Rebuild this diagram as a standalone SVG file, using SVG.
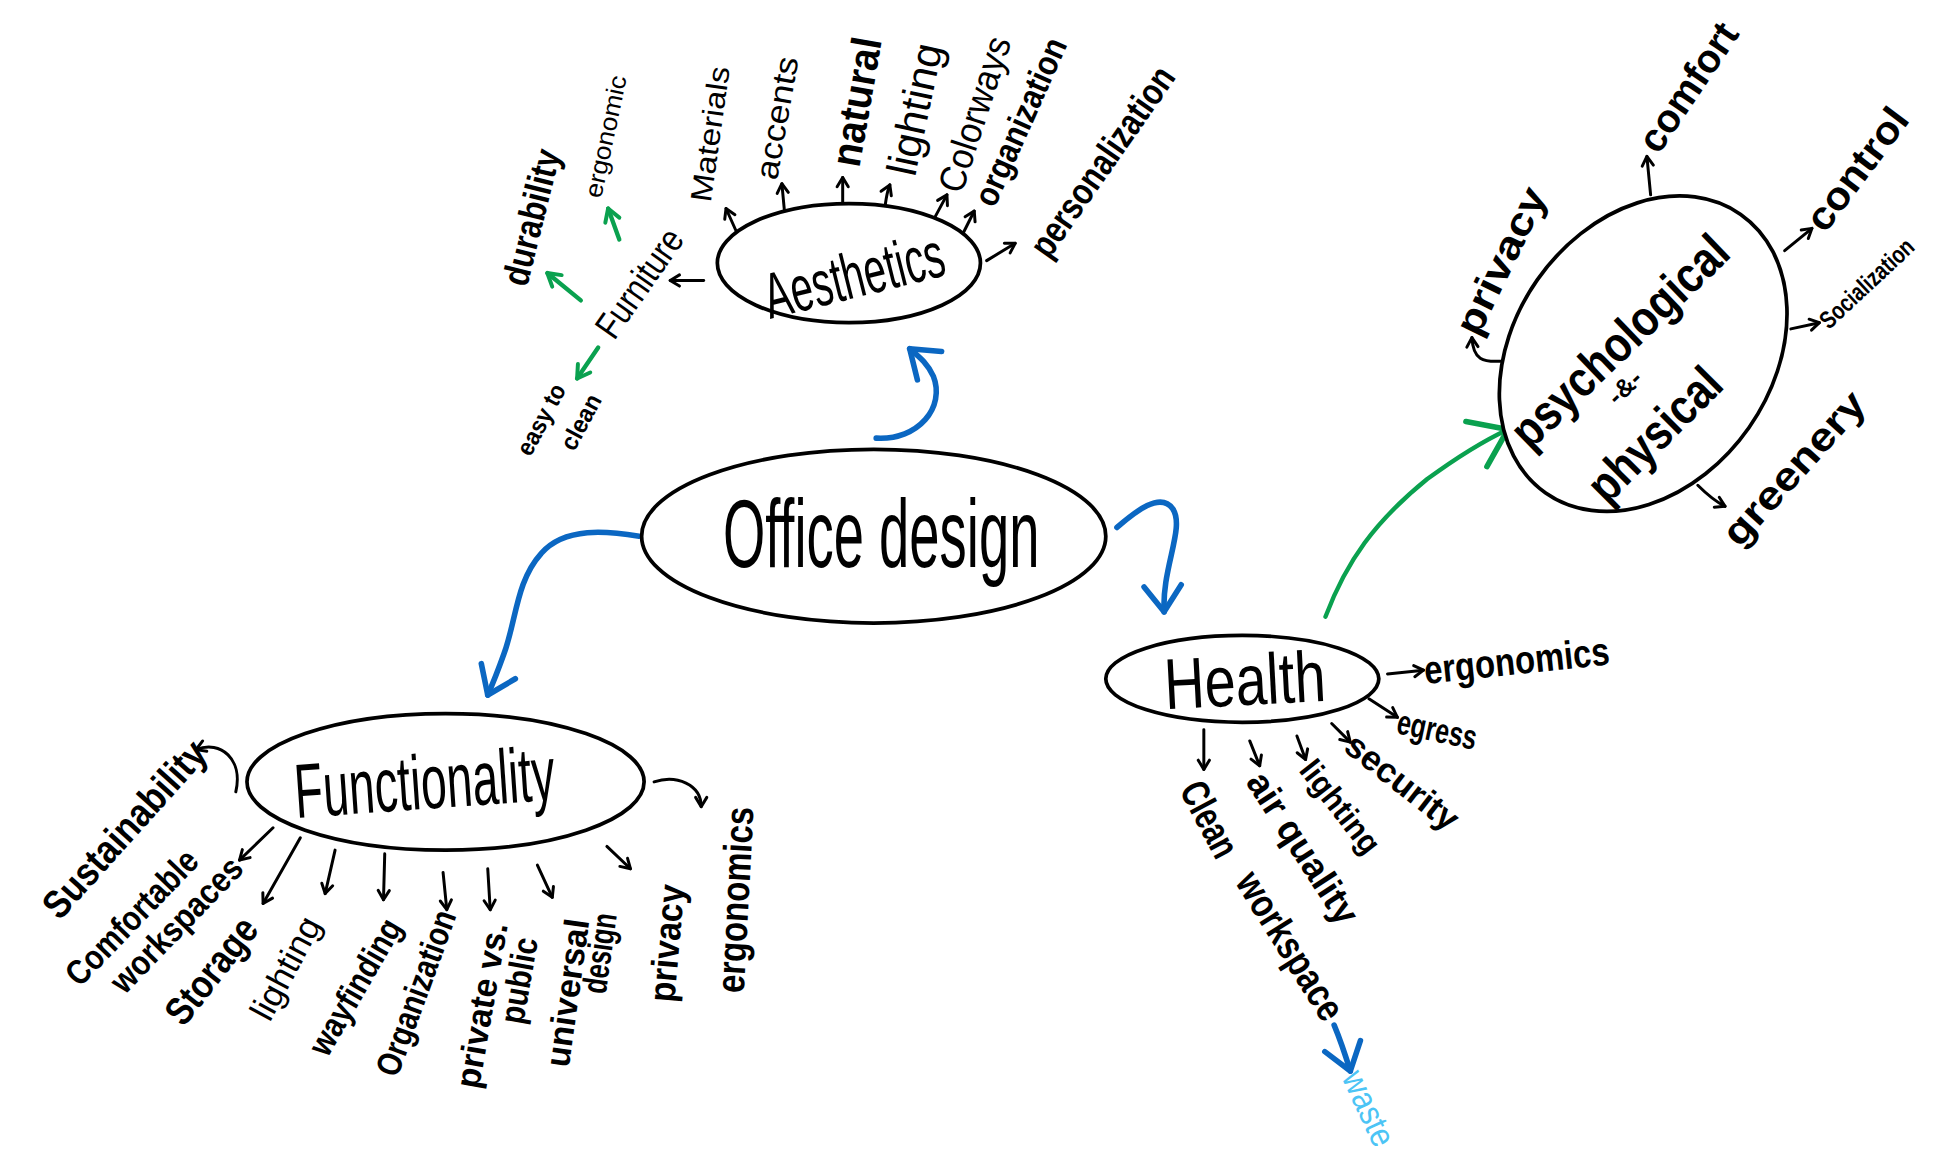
<svg xmlns="http://www.w3.org/2000/svg" width="1946" height="1163" viewBox="0 0 1946 1163">
<style>
.bg{fill:#fff}
.node{fill:#fff;stroke:#000;stroke-width:3}
.t{font-family:"Liberation Sans",Arial,sans-serif;fill:#000;text-anchor:middle;dominant-baseline:central}
.b{font-weight:bold}
.k{fill:none;stroke:#000;stroke-width:2.4;stroke-linecap:round;stroke-linejoin:round;marker-end:url(#ak)}
.g{fill:none;stroke:#0aa14f;stroke-width:3.5;stroke-linecap:round;stroke-linejoin:round}
.gs{marker-end:url(#ag)}
.gb{marker-end:url(#agb)}
.bl{fill:none;stroke:#0b67c2;stroke-width:4.5;stroke-linecap:round;stroke-linejoin:round;marker-end:url(#ab)}
.wst{fill:#4cc4f5}
</style>
<defs>
<marker id="ak" viewBox="0 0 12 12" refX="10.5" refY="6" markerWidth="12" markerHeight="12" markerUnits="userSpaceOnUse" orient="auto" overflow="visible"><path d="M3,1.5 L10.5,6 L3,10.5" fill="none" stroke="#000" stroke-width="2.4" stroke-linecap="round" stroke-linejoin="round"/></marker>
<marker id="ag" viewBox="0 0 16 16" refX="14" refY="8" markerWidth="16" markerHeight="16" markerUnits="userSpaceOnUse" orient="auto" overflow="visible"><path d="M4,2 L14,8 L4,14" fill="none" stroke="#0aa14f" stroke-width="3.2" stroke-linecap="round" stroke-linejoin="round"/></marker>
<marker id="agb" viewBox="0 0 44 44" refX="40" refY="22" markerWidth="44" markerHeight="44" markerUnits="userSpaceOnUse" orient="auto" overflow="visible"><path d="M12,2 L40,22 L12,42" fill="none" stroke="#0aa14f" stroke-width="4.5" stroke-linecap="round" stroke-linejoin="round"/></marker>
<marker id="ab" viewBox="0 0 34 34" refX="31" refY="17" markerWidth="34" markerHeight="34" markerUnits="userSpaceOnUse" orient="auto" overflow="visible"><path d="M10,2 L31,17 L10,32" fill="none" stroke="#0b67c2" stroke-width="4.5" stroke-linecap="round" stroke-linejoin="round"/></marker>
</defs>
<rect class="bg" x="0" y="0" width="1946" height="1163"/>
<g transform="scale(1.24107)">
<g id="connectors">
<path class="bl" d="M706,353 C740,355 762,328 752,303 C747,292 740,287 733,281"/>
<path class="bl" d="M515,432 C490,428 455,424 436,446 C416,468 416,500 406,527 C401,541 397,551 393,560"/>
<path class="bl" d="M900,425 C915,412 935,396 945,410 C955,425 936,458 938,493"/>
<path class="g gb" d="M1068,497 C1085,452 1108,420 1150,386 C1180,364 1200,353 1215,346"/>
<path class="bl" d="M1075,826 C1080,838 1084,850 1088,863"/>
<path class="k" d="M567,226 L540,226"/>
<path class="k" d="M598,197 L585,168"/>
<path class="k" d="M633,180 L630,148"/>
<path class="k" d="M679,170 L679,143"/>
<path class="k" d="M712,178 C713,165 714,156 717,149"/>
<path class="k" d="M749,183 L763,157"/>
<path class="k" d="M772,196 L785,170"/>
<path class="k" d="M795,210 L818,196"/>
<path class="g gs" d="M468,242 L441,220"/>
<path class="g gs" d="M499,193 L490,168"/>
<path class="g gs" d="M482,280 L465,305"/>
<path class="k" d="M190,638 C196,612 178,596 158,604"/>
<path class="k" d="M220,667 L193,693"/>
<path class="k" d="M242,675 L212,728"/>
<path class="k" d="M270,685 L262,720"/>
<path class="k" d="M310,688 L309,725"/>
<path class="k" d="M357,703 L360,733"/>
<path class="k" d="M393,700 L395,733"/>
<path class="k" d="M433,697 L445,723"/>
<path class="k" d="M489,682 L508,700"/>
<path class="k" d="M527,630 C545,624 565,632 565,650"/>
<path class="k" d="M1118,543 L1147,540"/>
<path class="k" d="M1103,563 L1126,578"/>
<path class="k" d="M1073,583 L1088,598"/>
<path class="k" d="M1045,593 L1052,612"/>
<path class="k" d="M1007,597 L1015,617"/>
<path class="k" d="M970,588 L970,620"/>
<path class="k" d="M1210,291 C1195,292 1187,290 1186,272"/>
<path class="k" d="M1330,157 L1327,126"/>
<path class="k" d="M1438,202 L1460,184"/>
<path class="k" d="M1443,265 L1466,260"/>
<path class="k" d="M1368,391 C1375,398 1382,404 1390,408"/>
</g>
<g id="office-design">
<ellipse class="node" cx="704" cy="432" rx="187" ry="70"/>
<text class="t" transform="translate(710,430)" font-size="78" textLength="255" lengthAdjust="spacingAndGlyphs">Office design</text>
</g>
<g id="aesthetics">
<ellipse class="node" cx="684" cy="212" rx="106" ry="48"/>
<text class="t" transform="translate(688,222) rotate(-14)" font-size="52" textLength="148" lengthAdjust="spacingAndGlyphs">Aesthetics</text>
</g>
<g id="functionality">
<ellipse class="node" cx="359" cy="630" rx="160" ry="55"/>
<text class="t" transform="translate(342,630) rotate(-4)" font-size="62" textLength="210" lengthAdjust="spacingAndGlyphs">Functionality</text>
</g>
<g id="health">
<ellipse class="node" cx="1001" cy="547" rx="110" ry="35"/>
<text class="t" transform="translate(1003,548) rotate(-3)" font-size="58" textLength="130" lengthAdjust="spacingAndGlyphs">Health</text>
</g>
<g id="psychological-physical">
<ellipse class="node" cx="1324" cy="285" rx="137" ry="104" transform="rotate(-55 1324 285)"/>
<text class="t b" transform="translate(1305,275) rotate(-44)" font-size="40" textLength="227" lengthAdjust="spacingAndGlyphs">psychological</text>
<text class="t b" transform="translate(1309,312) rotate(-44)" font-size="20" textLength="30" lengthAdjust="spacingAndGlyphs">-&amp;-</text>
<text class="t b" transform="translate(1333,350) rotate(-45)" font-size="40" textLength="135" lengthAdjust="spacingAndGlyphs">physical</text>
</g>
<g id="a-furniture"><text class="t" transform="translate(515,228) rotate(-55)" font-size="30" textLength="100" lengthAdjust="spacingAndGlyphs">Furniture</text></g>
<g id="a-durability"><text class="t b" transform="translate(428,175) rotate(-76)" font-size="30" textLength="112" lengthAdjust="spacingAndGlyphs">durability</text></g>
<g id="a-ergonomic"><text class="t" transform="translate(488,110) rotate(-78)" font-size="20" textLength="100" lengthAdjust="spacingAndGlyphs">ergonomic</text></g>
<g id="a-easy-to-clean">
<text class="t b" transform="translate(436,338) rotate(-62)" font-size="20" textLength="62" lengthAdjust="spacingAndGlyphs">easy to</text>
<text class="t b" transform="translate(468,340) rotate(-62)" font-size="20" textLength="48" lengthAdjust="spacingAndGlyphs">clean</text>
</g>
<g id="a-materials"><text class="t" transform="translate(572,108) rotate(-82)" font-size="24" textLength="110" lengthAdjust="spacingAndGlyphs">Materials</text></g>
<g id="a-accents"><text class="t" transform="translate(626,95) rotate(-80)" font-size="26" textLength="100" lengthAdjust="spacingAndGlyphs">accents</text></g>
<g id="a-natural"><text class="t b" transform="translate(690,82) rotate(-80)" font-size="34" textLength="105" lengthAdjust="spacingAndGlyphs">natural</text></g>
<g id="a-lighting"><text class="t" transform="translate(737,88) rotate(-78)" font-size="34" textLength="108" lengthAdjust="spacingAndGlyphs">lighting</text></g>
<g id="a-colorways"><text class="t" transform="translate(785,92) rotate(-72)" font-size="30" textLength="130" lengthAdjust="spacingAndGlyphs">Colorways</text></g>
<g id="a-organization"><text class="t b" transform="translate(822,98) rotate(-66)" font-size="28" textLength="145" lengthAdjust="spacingAndGlyphs">organization</text></g>
<g id="a-personalization"><text class="t b" transform="translate(888,130) rotate(-55)" font-size="30" textLength="180" lengthAdjust="spacingAndGlyphs">personalization</text></g>
<g id="f-sustainability"><text class="t b" transform="translate(100,668) rotate(-48)" font-size="32" textLength="180" lengthAdjust="spacingAndGlyphs">Sustainability</text></g>
<g id="f-comfortable-workspaces">
<text class="t b" transform="translate(106,739) rotate(-46)" font-size="28" textLength="140" lengthAdjust="spacingAndGlyphs">Comfortable</text>
<text class="t b" transform="translate(142,745) rotate(-46)" font-size="28" textLength="140" lengthAdjust="spacingAndGlyphs">workspaces</text>
</g>
<g id="f-storage"><text class="t b" transform="translate(170,782) rotate(-52)" font-size="32" textLength="100" lengthAdjust="spacingAndGlyphs">Storage</text></g>
<g id="f-lighting"><text class="t" transform="translate(230,780) rotate(-62)" font-size="28" textLength="90" lengthAdjust="spacingAndGlyphs">lighting</text></g>
<g id="f-wayfinding"><text class="t b" transform="translate(286,795) rotate(-60)" font-size="28" textLength="122" lengthAdjust="spacingAndGlyphs">wayfinding</text></g>
<g id="f-organization"><text class="t b" transform="translate(335,800) rotate(-70)" font-size="28" textLength="140" lengthAdjust="spacingAndGlyphs">Organization</text></g>
<g id="f-private-public">
<text class="t b" transform="translate(388,810) rotate(-80)" font-size="28" textLength="135" lengthAdjust="spacingAndGlyphs">private vs.</text>
<text class="t b" transform="translate(418,790) rotate(-80)" font-size="28" textLength="70" lengthAdjust="spacingAndGlyphs">public</text>
</g>
<g id="f-universal-design">
<text class="t b" transform="translate(457,800) rotate(-82)" font-size="28" textLength="120" lengthAdjust="spacingAndGlyphs">universal</text>
<text class="t b" transform="translate(483,768) rotate(-82)" font-size="28" textLength="65" lengthAdjust="spacingAndGlyphs">design</text>
</g>
<g id="f-privacy"><text class="t b" transform="translate(537,760) rotate(-85)" font-size="30" textLength="95" lengthAdjust="spacingAndGlyphs">privacy</text></g>
<g id="f-ergonomics"><text class="t b" transform="translate(592,725) rotate(-87)" font-size="32" textLength="150" lengthAdjust="spacingAndGlyphs">ergonomics</text></g>
<g id="h-ergonomics"><text class="t b" transform="translate(1222,532) rotate(-6)" font-size="32" textLength="150" lengthAdjust="spacingAndGlyphs">ergonomics</text></g>
<g id="h-egress"><text class="t b" transform="translate(1158,588) rotate(12)" font-size="28" textLength="65" lengthAdjust="spacingAndGlyphs">egress</text></g>
<g id="h-security"><text class="t b" transform="translate(1130,630) rotate(38)" font-size="28" textLength="108" lengthAdjust="spacingAndGlyphs">security</text></g>
<g id="h-lighting"><text class="t b" transform="translate(1080,650) rotate(52)" font-size="26" textLength="88" lengthAdjust="spacingAndGlyphs">lighting</text></g>
<g id="h-air-quality"><text class="t b" transform="translate(1050,683) rotate(57)" font-size="30" textLength="140" lengthAdjust="spacingAndGlyphs">air quality</text></g>
<g id="h-clean-workspace">
<text class="t b" transform="translate(975,660) rotate(62)" font-size="32" textLength="65" lengthAdjust="spacingAndGlyphs">Clean</text>
<text class="t b" transform="translate(1040,762) rotate(58)" font-size="32" textLength="135" lengthAdjust="spacingAndGlyphs">workspace</text>
</g>
<g id="h-waste"><text class="t wst" transform="translate(1103,893) rotate(65)" font-size="28" textLength="64" lengthAdjust="spacingAndGlyphs">waste</text></g>
<g id="p-privacy"><text class="t b" transform="translate(1209,210) rotate(-64)" font-size="32" textLength="128" lengthAdjust="spacingAndGlyphs">privacy</text></g>
<g id="p-comfort"><text class="t b" transform="translate(1360,70) rotate(-56)" font-size="32" textLength="118" lengthAdjust="spacingAndGlyphs">comfort</text></g>
<g id="p-control"><text class="t b" transform="translate(1496,136) rotate(-53)" font-size="32" textLength="115" lengthAdjust="spacingAndGlyphs">control</text></g>
<g id="p-socialization"><text class="t b" transform="translate(1469,261) rotate(-43)" font-size="20" textLength="96" lengthAdjust="spacingAndGlyphs" style="text-anchor:start">Socialization</text></g>
<g id="p-greenery"><text class="t b" transform="translate(1445,377) rotate(-48)" font-size="32" textLength="155" lengthAdjust="spacingAndGlyphs">greenery</text></g>
</g>
</svg>
